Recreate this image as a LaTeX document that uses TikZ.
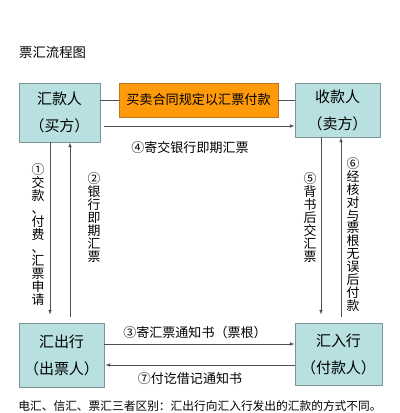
\documentclass[tikz,border=0pt]{standalone}
\usepackage{fontspec}
\setmainfont{Noto Sans CJK SC}
\usetikzlibrary{positioning, arrows.meta}
\definecolor{boxcyan}{HTML}{B8E0E0}
\definecolor{boxline}{HTML}{7A9494}
\definecolor{dealorange}{HTML}{FF9A0A}
\definecolor{dealline}{HTML}{C27418}
\definecolor{flowgray}{HTML}{505050}

\begin{document}
\begin{tikzpicture}[x=0.03cm, y=-0.03cm, inner sep=0pt,
      party/.style={rectangle, draw=boxline, line width=0.8pt, fill=boxcyan,
        align=center, font=\fontsize{12.8}{23}\selectfont},
      deal/.style={rectangle, draw=dealline, line width=0.8pt, fill=dealorange,
        font=\fontsize{11.2}{14}\selectfont},
      flow/.style={draw=flowgray, line width=0.5pt},
      arr/.style={flow, -{Latex[length=4pt, width=3pt]}},
      lbl/.style={font=\fontsize{11.1}{13}\selectfont},
      vlbl/.style={align=center, font=\fontsize{11}{11.05}\selectfont}]
      \useasboundingbox (0,0) rectangle (400,413);
      % title
      \node[anchor=west, font=\fontsize{11.4}{13}\selectfont] (title) at(19,52) {票汇流程图};
      % parties and banks
      \node[party, minimum width=2.43cm, minimum height=1.77cm](buyer) at(59.5,112.5) {汇款人\\（买方）};
      \node[deal, minimum width=4.77cm, minimum height=1.02cm](contract) at(198.5,100) {买卖合同规定以汇票付款};
      \node[party, minimum width=2.55cm, minimum height=1.62cm](seller) at(337.5,110) {收款人\\（卖方）};
      \node[party, minimum width=2.55cm, minimum height=1.92cm](drawer) at(61.5,355) {汇出行\\（出票人）};
      \node[party, minimum width=2.61cm, minimum height=1.86cm](payer) at(338.5,354) {汇入行\\（付款人）};
      % contract links
      \draw[flow] (contract.west) -- (contract.west -| buyer.east);
      \draw[flow] (contract.east) -- (contract.east -| seller.west);
      % rows and columns of the flows
      \coordinate (row4) at (0,126);
      \coordinate (row3) at (0,344);
      \coordinate (row7) at (0,365);
      \coordinate (col1) at (50,0);
      \coordinate (col2) at (70,0);
      \coordinate (col5) at (321,0);
      \coordinate (col6) at (341,0);
      % 4
      \draw[arr] ([xshift=0.12cm]buyer.east |- row4) -- (seller.west |- row4);
      \node[lbl] (t4) at(190,148) {④寄交银行即期汇票};
      % 1, 2
      \draw[arr] (buyer.south -| col1) -- ([yshift=0.24cm]drawer.north -| col1);
      \draw[arr] ([yshift=0.18cm]drawer.north -| col2) -- (buyer.south -| col2);
      \node[vlbl] (t1) at(38,234.5) {①\\交\\款\\、\\付\\费\\、\\汇\\票\\申\\请};
      \node[vlbl] (t2) at(94,217.5) {②\\银\\行\\即\\期\\汇\\票};
      % 5, 6
      \draw[arr] (seller.south -| col5) -- ([yshift=0.24cm]payer.north -| col5);
      \draw[arr] ([yshift=0.18cm]payer.north -| col6) -- (seller.south -| col6);
      \node[vlbl] (t5) at(310,217.5) {⑤\\背\\书\\后\\交\\汇\\票};
      \node[vlbl] (t6) at(353,234.5) {⑥\\经\\核\\对\\与\\票\\根\\无\\误\\后\\付\\款};
      % 3, 7
      \draw[arr] (drawer.east |- row3) -- (payer.west |- row3);
      \node[lbl] (t3) at(195,333) {③寄汇票通知书（票根）};
      \draw[arr] (payer.west |- row7) -- ([xshift=0.03cm]drawer.east |- row7);
      \node[lbl] (t7) at(190,379) {⑦付讫借记通知书};
      % note
      \node[font=\fontsize{10}{12}\selectfont] (note) at(200,406) {电汇、信汇、票汇三者区别：汇出行向汇入行发出的汇款的方式不同。};
  \end{tikzpicture}
\end{document}
